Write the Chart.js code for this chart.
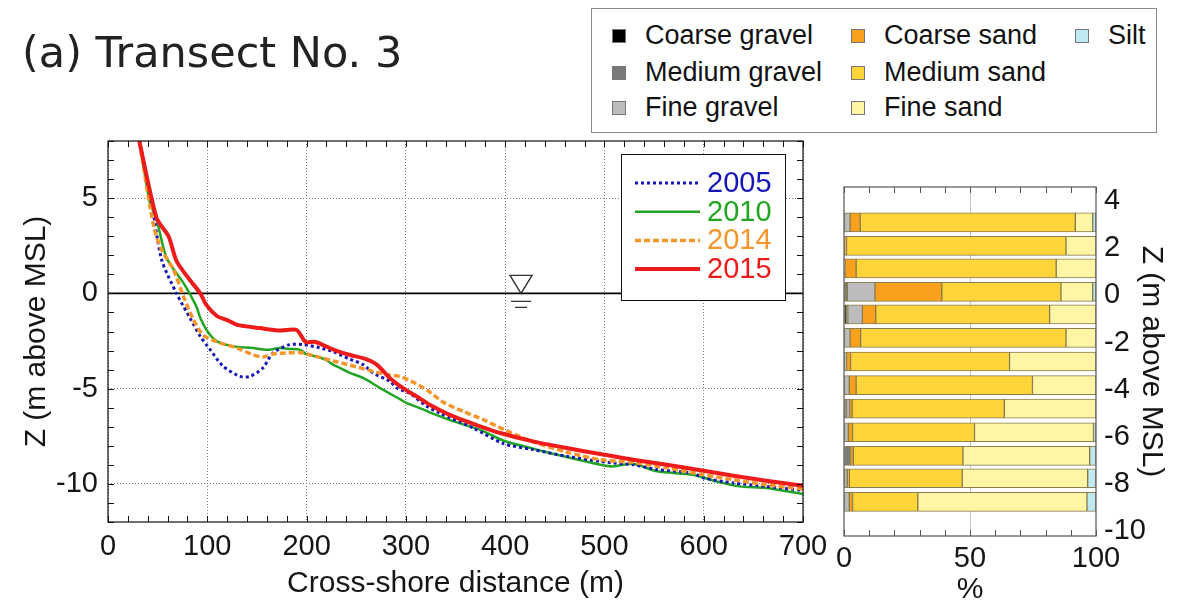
<!DOCTYPE html>
<html>
<head>
<meta charset="utf-8">
<script src="https://cdn.jsdelivr.net/npm/chart.js@4.4.1/dist/chart.umd.min.js"></script>
<style>
    body { margin: 0; width: 1178px; height: 606px; overflow: hidden; position: relative; background: #fff;
           font-family: "Liberation Sans", Arial, sans-serif; color: #111; }
    #title { position: absolute; left: 22px; top: 31px; font: 43px/43px "DejaVu Sans", sans-serif; color: #222; white-space: nowrap; }
    #profile { position: absolute; left: 0; top: 0; }
    #grain { position: absolute; left: 820px; top: 0; }
    #legendBox { position: absolute; left: 591px; top: 8px; width: 564px; height: 123px; border: 1.5px solid #8a8a8a; background: #fff; }
    .lg { position: absolute; font-size: 27px; line-height: 30px; white-space: nowrap; }
    .sw { position: absolute; width: 12px; height: 12px; border: 1px solid #777; }
</style>
</head>
<body>
<canvas id="profile" width="840" height="606"></canvas>
<canvas id="grain" width="358" height="606"></canvas>
<div id="title">(a) Transect No. 3</div>
<div id="legendBox"></div>

<script>
// ---- profile data (cross-shore distance in m, Z in m above MSL) ----
const years = ['2005', '2010', '2014', '2015']
const yearColors = ['#1616b8', '#22a522', '#f4962c', '#ee1b1b']
const profileZTicks = [-10, -5, 0, 5]

const dist2005 = [31.5, 44, 54, 69, 83, 93, 103, 116, 133, 143, 156, 166, 183, 197, 213, 227, 242, 257, 267, 284, 291, 304, 321, 334, 368, 398, 428, 462, 496, 509, 529, 553, 589, 600, 630, 663, 700]
const z2005 = [8.0, 4.74, 1.77, 0.0, -1.33, -2.26, -2.96, -3.83, -4.36, -4.36, -3.92, -3.13, -2.69, -2.69, -2.85, -3.06, -3.42, -3.74, -4.18, -4.62, -4.97, -5.25, -5.93, -6.28, -7.07, -7.88, -8.2, -8.55, -8.82, -8.9, -8.99, -9.25, -9.43, -9.69, -9.95, -10.13, -10.34]

const dist2010 = [31.5, 42, 49, 59, 76, 89, 93, 101, 110, 126, 146, 160, 173, 184, 193, 200, 210, 220, 227, 234, 244, 257, 274, 294, 301, 318, 324, 348, 375, 398, 428, 462, 496, 509, 529, 553, 589, 613, 636, 663, 700]
const z2010 = [8.0, 4.83, 3.87, 1.86, 0.55, -0.68, -1.29, -2.05, -2.52, -2.78, -2.87, -2.96, -2.87, -2.92, -2.95, -3.2, -3.31, -3.5, -3.75, -3.92, -4.18, -4.44, -4.97, -5.55, -5.76, -6.1, -6.25, -6.72, -7.16, -7.72, -8.15, -8.59, -8.99, -9.08, -8.94, -9.34, -9.52, -9.87, -10.13, -10.21, -10.53]

const dist2014 = [31.5, 46, 54, 66, 76, 86, 96, 113, 130, 146, 156, 167, 180, 193, 207, 227, 244, 264, 281, 294, 308, 322, 338, 358, 378, 401, 426, 462, 496, 529, 563, 600, 630, 663, 700]
const z2014 = [8.0, 3.52, 2.29, 1.24, -0.16, -1.38, -2.2, -2.6, -2.87, -3.22, -3.34, -3.17, -3.13, -3.1, -3.27, -3.55, -3.77, -4.05, -4.27, -4.36, -4.68, -5.1, -5.72, -6.2, -6.63, -7.2, -7.75, -8.33, -8.73, -8.87, -9.16, -9.52, -9.78, -10.04, -10.27]

const dist2015 = [31.5, 49, 61, 69, 81, 93, 99, 110, 120, 130, 153, 173, 190, 199, 209, 227, 243, 260, 271, 284, 298, 311, 324, 348, 375, 395, 428, 462, 500, 529, 563, 600, 630, 663, 700]
const z2015 = [8.0, 3.95, 3.0, 1.7, 0.8, 0.0, -0.6, -1.2, -1.4, -1.65, -1.82, -1.95, -1.92, -2.55, -2.55, -2.95, -3.22, -3.45, -3.75, -4.45, -5.0, -5.41, -5.84, -6.46, -6.98, -7.33, -7.77, -8.12, -8.47, -8.73, -8.99, -9.31, -9.57, -9.83, -10.1]

const waterMarkX = 416

// ---- grain size data (% per sample depth) ----
const sampleZ = [3.1, 2.1, 1.15, 0.15, -0.8, -1.8, -2.8, -3.8, -4.8, -5.8, -6.8, -7.75, -8.75]
const grainClasses = ['Coarse gravel', 'Medium gravel', 'Fine gravel', 'Coarse sand', 'Medium sand', 'Fine sand', 'Silt']
const grainColors = ['#000000', '#7a7a7a', '#bcbcbc', '#f9a11e', '#fdd43a', '#fef6a4', '#bfe9f0']
const coarseGravel = [0, 0, 0, 0, 1.0, 0, 0, 0, 0, 0, 0, 0, 0]
const mediumGravel = [0, 0, 0, 1.3, 0.5, 0, 0, 0, 1.0, 0, 2.6, 0, 0]
const fineGravel = [2.4, 0, 0.4, 11.0, 5.8, 2.4, 1.0, 2.1, 1.2, 1.7, 0, 1.3, 2.1]
const coarseSand = [4.0, 1.0, 4.4, 26.5, 5.3, 4.2, 1.6, 2.7, 1.0, 1.7, 1.1, 0.8, 1.3]
const mediumSand = [85.4, 87.1, 79.4, 47.3, 69.0, 81.5, 63.1, 70.0, 60.4, 48.4, 43.5, 44.8, 25.9]
const fineSand = [6.9, 11.9, 15.8, 12.6, 18.4, 11.9, 34.3, 25.2, 36.4, 47.2, 50.3, 49.8, 67.1]
const silt = [1.3, 0, 0, 1.3, 0, 0, 0, 0, 0, 1.0, 2.5, 3.3, 3.6]

Chart.defaults.font.family = '"Liberation Sans", Arial, sans-serif'
Chart.defaults.color = '#151515'

const range = (a, b, step) => {
    const out = []
    for (let v = a; v <= b + 1e-9; v += step) out.push(v)
    return out
}

// inward ticks + full frame round the plot area
const frame = {
    id: 'frame',
    afterDatasetsDraw(chart, args, opts) {
        const { ctx, chartArea: a, scales } = chart
        ctx.save()
        ctx.strokeStyle = opts.color
        ctx.lineWidth = 1
        ctx.beginPath()
        const len = 6
        ;(opts.xTicks || []).forEach(v => {
            const px = Math.round(scales.x.getPixelForValue(v)) + 0.5
            ctx.moveTo(px, a.bottom); ctx.lineTo(px, a.bottom - len)
            ctx.moveTo(px, a.top); ctx.lineTo(px, a.top + len)
        })
        ;(opts.yTicks || []).forEach(v => {
            const py = Math.round(scales.y.getPixelForValue(v)) + 0.5
            ctx.moveTo(a.left, py); ctx.lineTo(a.left + len, py)
            ctx.moveTo(a.right, py); ctx.lineTo(a.right - len, py)
        })
        ctx.stroke()
        ctx.lineWidth = opts.width
        ctx.strokeRect(a.left, a.top, a.right - a.left, a.bottom - a.top)
        ctx.restore()
    }
}

// mean sea level line and the water level symbol
const seaLevel = {
    id: 'seaLevel',
    beforeDatasetsDraw(chart) {
        const { ctx, chartArea: a, scales: { x, y } } = chart
        const y0 = y.getPixelForValue(0)
        ctx.save()
        ctx.strokeStyle = '#000'
        ctx.lineWidth = 1.6
        ctx.beginPath()
        ctx.moveTo(a.left, y0); ctx.lineTo(a.right, y0)
        ctx.stroke()
        const cx = x.getPixelForValue(waterMarkX)
        ctx.strokeStyle = '#333'
        ctx.lineWidth = 1.4
        ctx.beginPath()
        ctx.moveTo(cx - 11, y0 - 18); ctx.lineTo(cx + 11, y0 - 18); ctx.lineTo(cx, y0); ctx.closePath()
        ctx.moveTo(cx - 10, y0 + 8); ctx.lineTo(cx + 10, y0 + 8)
        ctx.moveTo(cx - 6, y0 + 14); ctx.lineTo(cx + 6, y0 + 14)
        ctx.stroke()
        ctx.restore()
    }
}

// year legend drawn inside the profile plot
const yearLegend = {
    id: 'yearLegend',
    afterDatasetsDraw(chart) {
        const { ctx } = chart
        const bx = 621, by = 154, bw = 164, bh = 146
        ctx.save()
        ctx.fillStyle = '#fff'
        ctx.fillRect(bx, by, bw, bh)
        ctx.strokeStyle = '#111'
        ctx.lineWidth = 1
        ctx.strokeRect(bx + 0.5, by + 0.5, bw, bh)
        ctx.font = '29px "Liberation Sans", Arial, sans-serif'
        ctx.textBaseline = 'middle'
        years.forEach((yr, i) => {
            const ds = chart.data.datasets.find(d => d.label === yr)
            const ry = by + 29 + i * 28.7
            ctx.strokeStyle = ds.borderColor
            ctx.lineWidth = ds.borderWidth
            ctx.setLineDash(ds.borderDash || [])
            ctx.beginPath()
            ctx.moveTo(bx + 14, ry); ctx.lineTo(bx + 79, ry)
            ctx.stroke()
            ctx.fillStyle = ds.borderColor
            ctx.fillText(yr, bx + 86, ry + 1)
        })
        ctx.restore()
    }
}

const profiles = [
    { year: '2005', dist: dist2005, z: z2005, width: 3, dash: [3, 3], order: 2 },
    { year: '2010', dist: dist2010, z: z2010, width: 2.5, dash: [], order: 3 },
    { year: '2014', dist: dist2014, z: z2014, width: 3.5, dash: [6, 3], order: 1 },
    { year: '2015', dist: dist2015, z: z2015, width: 4, dash: [], order: 0 },
]

new Chart(document.getElementById('profile'), {
    type: 'line',
    data: {
        datasets: profiles.map(p => ({
            label: p.year,
            data: p.dist.map((d, i) => ({ x: d, y: p.z[i] })),
            borderColor: yearColors[years.indexOf(p.year)],
            borderWidth: p.width,
            borderDash: p.dash,
            pointRadius: 0,
            tension: 0.25,
            order: p.order,
        }))
    },
    options: {
        responsive: false,
        animation: false,
        devicePixelRatio: 1,
        layout: { padding: { top: 141, right: 37, left: 0, bottom: 0 } },
        plugins: {
            legend: { display: false },
            tooltip: { enabled: false },
            frame: { color: '#111', width: 1.2, xTicks: range(0, 700, 20), yTicks: range(-12, 8, 1) },
        },
        scales: {
            x: {
                type: 'linear', min: 0, max: 700,
                ticks: { stepSize: 100, font: { size: 29 }, padding: 8, maxRotation: 0, autoSkip: false, includeBounds: false },
                grid: { color: '#777', lineWidth: 1, drawTicks: false },
                border: { display: false, dash: [1, 2] },
                title: { display: true, text: 'Cross-shore distance (m)', font: { size: 30, lineHeight: 1 }, padding: { top: 0, bottom: 7 } },
                afterFit: s => { s.height = 84; s.paddingLeft = 0; s.paddingRight = 0 },
            },
            y: {
                type: 'linear', min: -12, max: 8,
                ticks: { font: { size: 29 }, padding: 10 },
                afterBuildTicks: s => { s.ticks = profileZTicks.map(v => ({ value: v })) },
                grid: { color: '#777', lineWidth: 1, drawTicks: false },
                border: { display: false, dash: [1, 2] },
                title: { display: true, text: 'Z (m above MSL)', font: { size: 30, lineHeight: 1 }, padding: { top: 22, bottom: 0 } },
                afterFit: s => { s.width = 108 },
            },
        },
    },
    plugins: [seaLevel, frame, yearLegend],
})

const grainSeries = [coarseGravel, mediumGravel, fineGravel, coarseSand, mediumSand, fineSand, silt]

new Chart(document.getElementById('grain'), {
    type: 'bar',
    data: {
        datasets: grainSeries.map((vals, k) => ({
            label: grainClasses[k],
            data: vals.map((v, i) => ({ x: v, y: sampleZ[i] })).filter(p => p.x > 0),
            backgroundColor: grainColors[k],
            borderColor: 'rgba(120,105,50,0.85)',
            borderWidth: 1,
            borderSkipped: false,
            barThickness: 19,
        }))
    },
    options: {
        indexAxis: 'y',
        responsive: false,
        animation: false,
        devicePixelRatio: 1,
        layout: { padding: { top: 187, left: 24, right: 0, bottom: 0 } },
        plugins: {
            legend: { display: false },
            tooltip: { enabled: false },
            frame: { color: '#555', width: 1.2, xTicks: range(0, 100, 10), yTicks: [] },
        },
        scales: {
            x: {
                type: 'linear', stacked: true, min: 0, max: 100,
                ticks: { stepSize: 50, font: { size: 29 }, padding: 6, maxRotation: 0, autoSkip: false },
                grid: { color: c => c.tick && c.tick.value === 50 ? '#c4c4c4' : 'rgba(0,0,0,0)', drawTicks: false },
                border: { display: false },
                title: { display: true, text: '%', font: { size: 30, lineHeight: 1 }, padding: { top: 0, bottom: 1 } },
                afterFit: s => { s.height = 70 },
            },
            y: {
                type: 'linear', position: 'right', stacked: true, offset: false, min: -10.2, max: 4.6,
                ticks: { stepSize: 2, font: { size: 29 }, padding: 8, includeBounds: false },
                grid: { display: false, drawTicks: false },
                border: { display: false },
                title: { display: true, text: 'Z (m above MSL)', font: { size: 30, lineHeight: 1 }, padding: { top: 12, bottom: 0 } },
                afterFit: s => { s.width = 82 },
            },
        },
    },
    plugins: [frame],
})

// sediment class legend (HTML, top right)
const colX = [[612, 645], [851, 884], [1075, 1108]]
const rowY = [35, 71.5, 107]
grainClasses.forEach((name, i) => {
    const col = Math.floor(i / 3), row = i % 3
    const sw = document.createElement('div')
    sw.className = 'sw'
    sw.style.background = grainColors[i]
    sw.style.left = colX[col][0] + 'px'
    sw.style.top = (rowY[row] - 6) + 'px'
    document.body.appendChild(sw)
    const t = document.createElement('div')
    t.className = 'lg'
    t.textContent = name
    t.style.left = colX[col][1] + 'px'
    t.style.top = (rowY[row] - 15) + 'px'
    document.body.appendChild(t)
})
</script>
</body>
</html>
